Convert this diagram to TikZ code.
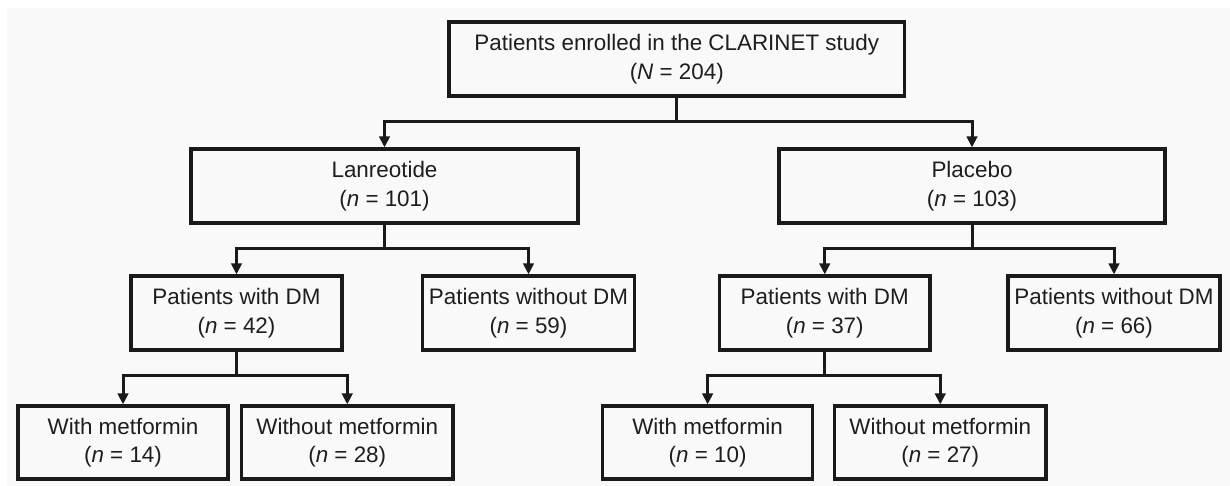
\documentclass[tikz,border=0pt]{standalone}
\usepackage{fontspec}
\setmainfont{Liberation Sans}
\usetikzlibrary{arrows.meta}
\definecolor{panel}{HTML}{F9F9F9}
\definecolor{ink}{HTML}{1A1A1A}
\definecolor{txt}{HTML}{1E1E1E}
\begin{document}
\begin{tikzpicture}[x=1pt,y=-1pt,
  box/.style={draw=ink,line width=3.2pt,rectangle,inner sep=0pt,align=center,
    minimum height=74pt,text=txt,
    font=\fontsize{22.4pt}{28.5pt}\selectfont},
  conn/.style={draw=ink,line width=3pt},
  arr/.style={conn,-{Triangle[length=11pt,width=10.5pt]}}]
\useasboundingbox (0,0) rectangle (1230,486);
\fill[white] (0,0) rectangle (1230,486);
\fill[panel] (7,8) rectangle (1230,486);

\node[box,minimum width=455.5pt] (top) at (676.75,59) {Patients enrolled in the CLARINET study\\(\textit{N} = 204)};
\node[box,minimum width=387pt] (lan) at (384.5,186) {Lanreotide\\(\textit{n} = 101)};
\node[box,minimum width=386pt] (pla) at (972,186) {Placebo\\(\textit{n} = 103)};
\node[box,minimum width=211pt] (dma) at (236.5,313) {Patients with DM\\(\textit{n} = 42)};
\node[box,minimum width=212pt] (ndma) at (528.5,313) {Patients without DM\\(\textit{n} = 59)};
\node[box,minimum width=210.5pt] (dmb) at (824.75,313) {Patients with DM\\(\textit{n} = 37)};
\node[box,minimum width=212pt] (ndmb) at (1114,313) {Patients without DM\\(\textit{n} = 66)};
\node[box,minimum width=210pt,minimum height=73pt] (ma) at (123,442.5) {With metformin\\(\textit{n} = 14)};
\node[box,minimum width=211.5pt,minimum height=73pt] (nma) at (347.25,442.5) {Without metformin\\(\textit{n} = 28)};
\node[box,minimum width=210pt,minimum height=73pt] (mb) at (707.6,442.5) {With metformin\\(\textit{n} = 10)};
\node[box,minimum width=211.5pt,minimum height=73pt] (nmb) at (940.25,442.5) {Without metformin\\(\textit{n} = 27)};

\coordinate (j1) at (676.75,121.7);
\coordinate (j2) at (384.5,248.5);
\coordinate (j3) at (972,248.5);
\coordinate (j4) at (236.5,375.7);
\coordinate (j5) at (824.75,375.7);

\draw[conn] (top.south) -- (j1);
\draw[arr] (j1) -| (lan.north);
\draw[arr] (j1) -| (pla.north);
\draw[conn] (lan.south) -- (j2);
\draw[arr] (j2) -| (dma.north);
\draw[arr] (j2) -| (ndma.north);
\draw[conn] (pla.south) -- (j3);
\draw[arr] (j3) -| (dmb.north);
\draw[arr] (j3) -| (ndmb.north);
\draw[conn] (dma.south) -- (j4);
\draw[arr] (j4) -| (ma.north);
\draw[arr] (j4) -| (nma.north);
\draw[conn] (dmb.south) -- (j5);
\draw[arr] (j5) -| (mb.north);
\draw[arr] (j5) -| (nmb.north);
\end{tikzpicture}
\end{document}
